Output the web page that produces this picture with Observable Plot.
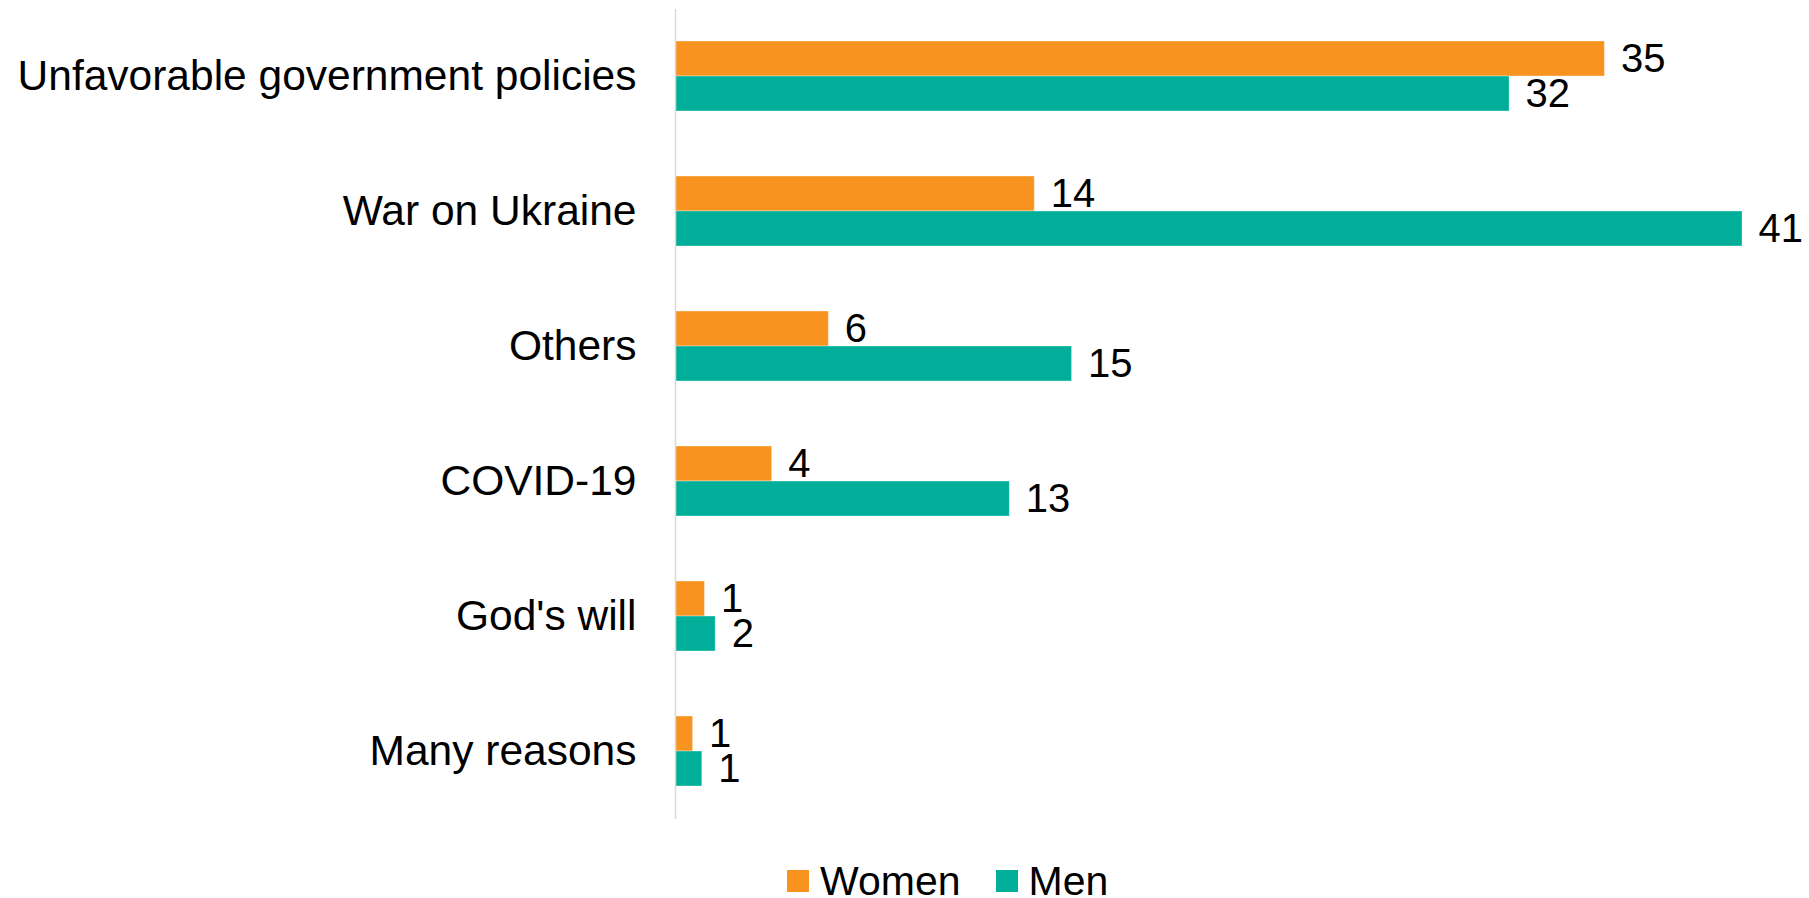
<!DOCTYPE html>
<html>
<head>
<meta charset="utf-8">
<script src="https://cdn.jsdelivr.net/npm/d3@7"></script>
<script src="https://cdn.jsdelivr.net/npm/@observablehq/plot@0.6"></script>
<style>
  html, body { margin: 0; padding: 0; background: #fff; }
  body { width: 1809px; font-family: "Liberation Sans", Arial, sans-serif; }
  #legend { display: flex; align-items: center; margin-left: 787px; margin-top: 36px; line-height: 30px; height: 30px; font-size: 41px; color: #000; }
  .sw { width: 22px; height: 22px; display: inline-block; margin-right: 11px; }
  .item { display: flex; align-items: center; margin-right: 35px; }
</style>
</head>
<body>
<div id="chart"></div>
<div id="legend"></div>
<script>
const categories = ["Unfavorable government policies", "War on Ukraine", "Others", "COVID-19", "God's will", "Many reasons"];
const women = [35.39, 13.68, 5.84, 3.68, 1.12, 0.67];
const men = [31.76, 40.63, 15.10, 12.73, 1.53, 1.02];
const seriesNames = ["Women", "Men"];
const seriesColors = ["#f7931e", "#00ae99"];

const womenData = categories.map((c, i) => ({category: c, value: women[i], label: String(Math.round(women[i]))}));
const menData = categories.map((c, i) => ({category: c, value: men[i], label: String(Math.round(men[i]))}));

const chart = Plot.plot({
  width: 1809,
  height: 830,
  marginTop: 9,
  marginBottom: 11,
  marginLeft: 675,
  marginRight: 31,
  style: {fontFamily: "'Liberation Sans', Arial, sans-serif", fontSize: "40px", color: "#000", background: "#fff", overflow: "visible"},
  x: {domain: [0, 42], axis: null},
  y: {domain: categories, paddingInner: 0.481, paddingOuter: 0.24, label: null},
  marks: [
    Plot.barX(womenData, {x: "value", y: "category", fill: seriesColors[0], insetBottom: 35, stroke: "#fff", strokeOpacity: 0.35, strokeWidth: 1}),
    Plot.barX(menData, {x: "value", y: "category", fill: seriesColors[1], insetTop: 35, stroke: "#fff", strokeOpacity: 0.35, strokeWidth: 1}),
    Plot.text(womenData, {x: "value", y: "category", text: "label", textAnchor: "start", dx: 16, dy: -17.5, fontSize: 40, fill: "#000"}),
    Plot.text(menData, {x: "value", y: "category", text: "label", textAnchor: "start", dx: 16, dy: 17.5, fontSize: 40, fill: "#000"}),
    Plot.ruleX([0], {stroke: "#d9d9d9", strokeWidth: 1.5}),
    Plot.axisY({anchor: "left", tickSize: 0, tickPadding: 39, fontSize: 42.5, label: null})
  ]
});
document.getElementById("chart").appendChild(chart);

const legend = document.getElementById("legend");
seriesNames.forEach((name, i) => {
  const item = document.createElement("div");
  item.className = "item";
  const sw = document.createElement("span");
  sw.className = "sw";
  sw.style.background = seriesColors[i];
  const t = document.createElement("span");
  t.textContent = name;
  item.appendChild(sw);
  item.appendChild(t);
  legend.appendChild(item);
});
</script>
</body>
</html>
